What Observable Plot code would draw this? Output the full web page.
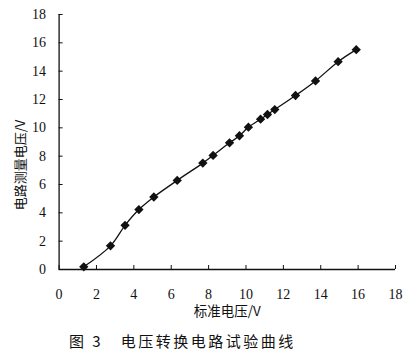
<!DOCTYPE html>
<html><head><meta charset="utf-8">
<script src="https://cdn.jsdelivr.net/npm/d3@7"></script>
<script src="https://cdn.jsdelivr.net/npm/@observablehq/plot@0.6"></script>
<style>
body{margin:0;background:#fff;}
#cap{font-family:"Noto Sans CJK SC",sans-serif;font-size:15px;color:#111;margin:0;margin-top:9px;padding-left:69px;letter-spacing:2.5px;line-height:20px;}
</style></head>
<body><div id="chart"></div><div id="cap">图 3&nbsp;&nbsp;&nbsp;电压转换电路试验曲线</div>
<script>
const standardV = [1.32, 2.75, 3.53, 4.27, 5.07, 6.32, 7.69, 8.24, 9.12, 9.65, 10.13, 10.78, 11.15, 11.54, 12.65, 13.72, 14.93, 15.90];
const measuredV = [0.19, 1.67, 3.12, 4.23, 5.12, 6.29, 7.51, 8.05, 8.94, 9.44, 10.05, 10.61, 10.94, 11.29, 12.28, 13.31, 14.67, 15.52];
const tickValues = [0, 2, 4, 6, 8, 10, 12, 14, 16, 18];
const xLabel = "标准电压/V";
const yLabel = "电路测量电压/V";

const data = standardV.map((x, i) => ({x, y: measuredV[i]}));
const serif = "'Liberation Serif', serif";
const cjk = "'Noto Sans CJK SC', sans-serif";

const chart = Plot.plot({
  width: 410, height: 322,
  marginLeft: 58.6, marginRight: 15, marginTop: 14, marginBottom: 53,
  style: {fontFamily: serif, fontSize: "14px", color: "#111", background: "#fff"},
  x: {domain: [0, 18]},
  y: {domain: [0, 18]},
  marks: [
    Plot.axisX({ticks: tickValues, tickSize: -4, tickPadding: 24, label: null, fontSize: 14, fontFamily: serif}),
    Plot.axisY({ticks: tickValues, tickSize: -4, tickPadding: 17, label: null, fontSize: 14, fontFamily: serif}),
    Plot.ruleY([0], {stroke: "#111", strokeWidth: 1.3}),
    Plot.ruleX([0], {stroke: "#111", strokeWidth: 1.3}),
    Plot.line(data, {x: "x", y: "y", curve: "catmull-rom", stroke: "#111", strokeWidth: 1.3}),
    Plot.dot(data, {x: "x", y: "y", symbol: "diamond2", r: 4.2, fill: "#111", stroke: "none"}),
    Plot.text([xLabel], {frameAnchor: "bottom", lineAnchor: "middle", textAnchor: "middle", dy: 42, fontSize: 13.5, fontFamily: cjk, fill: "#111", style: "letter-spacing:2px"}),
    Plot.text([yLabel], {frameAnchor: "left", textAnchor: "middle", lineAnchor: "middle", dx: -38, dy: 23, rotate: -90, fontSize: 13, fontFamily: cjk, fill: "#111"})
  ]
});
chart.querySelectorAll("text").forEach(t => {
  const f = /[\u4e00-\u9fff]/.test(t.textContent) ? cjk : serif;
  t.setAttribute("font-family", f);
  t.style.fontFamily = f;
});
document.getElementById("chart").appendChild(chart);
</script></body></html>
